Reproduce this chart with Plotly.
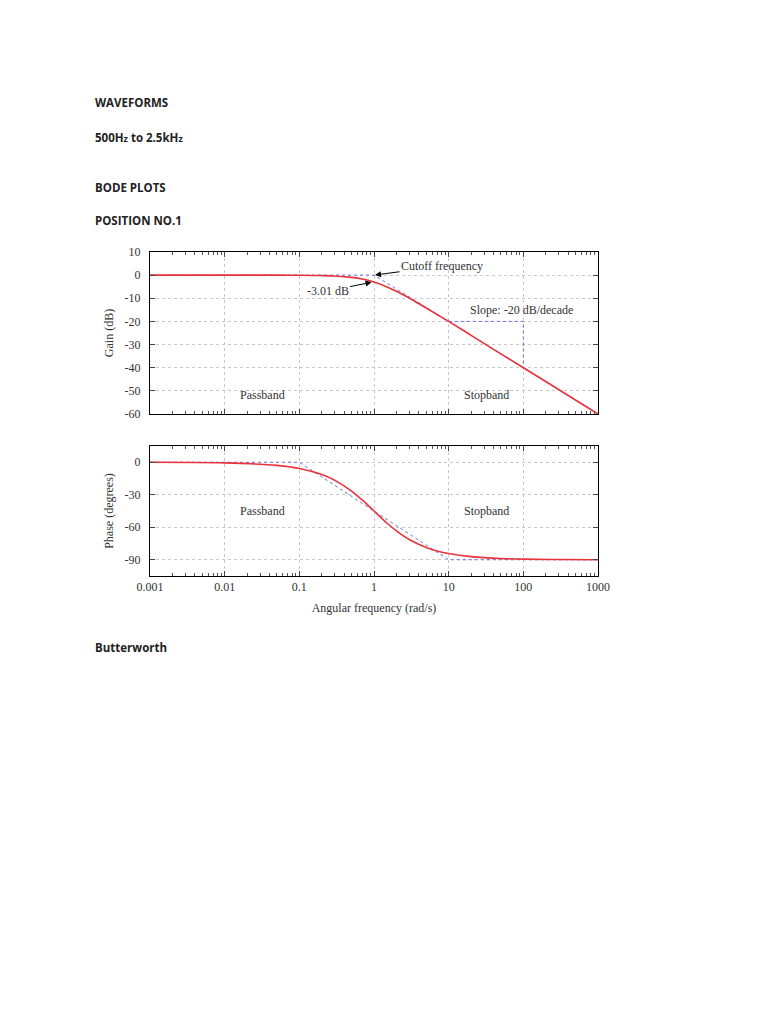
import plotly.graph_objects as go

# page text
page_lines = ["WAVEFORMS", "500H<span style='font-size:9px'>z</span> to 2.5kH<span style='font-size:9px'>z</span>",
              "BODE PLOTS", "POSITION NO.1", "Butterworth"]
page_y = [102, 137, 187, 220, 647]

freq = [0.001, 0.01, 0.05, 0.1, 0.2, 0.3, 0.5, 0.7, 1, 1.5, 2, 3, 5, 7, 10, 20, 50, 100, 300, 1000]
gain = [0, 0, -0.01, -0.04, -0.17, -0.37, -0.97, -1.7, -3.01, -5.1, -7.0, -10.0, -14.2, -17.0,
        -20.0, -26.0, -34.0, -40.0, -49.5, -60.0]
phase = [0, -0.6, -2.9, -5.7, -11.3, -16.7, -26.6, -35.0, -45.0, -56.3, -63.4, -71.6, -78.7,
         -81.9, -84.3, -87.1, -88.9, -89.4, -89.8, -90.0]

# blue dotted asymptotes
gain_asym_f = [0.001, 1, 1000]
gain_asym = [0, 0, -60]
slope_f = [10, 100, 100]
slope_g = [-20, -20, -40]
phase_asym_f = [0.001, 0.1, 10, 1000]
phase_asym = [0, 0, -90, -90]

# tick labels
gain_ticks = [10, 0, -10, -20, -30, -40, -50, -60]
phase_ticks = [0, -30, -60, -90]
freq_ticks = [0.001, 0.01, 0.1, 1, 10, 100, 1000]
freq_labels = ["0.001", "0.01", "0.1", "1", "10", "100", "1000"]
minor_ticks = [d * m for d in freq_ticks[:-1] for m in range(2, 10)]

red = "#e8323c"
blue = "#6f6fe6"
serif = "Liberation Serif"
W, H = 768, 1024
OFF = 8  # page body margin


def px(x):
    return (x - OFF) / W


def py(y):
    return 1 - (y - OFF) / H


fig = go.Figure()
fig.add_trace(go.Scatter(x=gain_asym_f, y=gain_asym, mode="lines", line=dict(color=blue, width=1, dash="dot"),
                         xaxis="x", yaxis="y"))
fig.add_trace(go.Scatter(x=slope_f, y=slope_g, mode="lines", line=dict(color=blue, width=1, dash="dot"),
                         xaxis="x", yaxis="y"))
fig.add_trace(go.Scatter(x=freq, y=gain, mode="lines", line=dict(color=red, width=1.6, shape="spline"),
                         xaxis="x", yaxis="y"))
fig.add_trace(go.Scatter(x=phase_asym_f, y=phase_asym, mode="lines", line=dict(color=blue, width=1, dash="dot"),
                         xaxis="x2", yaxis="y2"))
fig.add_trace(go.Scatter(x=freq, y=phase, mode="lines", line=dict(color=red, width=1.6, shape="spline"),
                         xaxis="x2", yaxis="y2"))

tick_font = dict(family=serif, size=12, color="#333")
common_x = dict(type="log", range=[-3, 3], tickvals=freq_ticks, ticktext=freq_labels, automargin=False,
                showline=True, linecolor="black", linewidth=1,
                mirror="ticks", ticks="inside", ticklen=5, tickcolor="#444",
                showgrid=True, gridcolor="#c8c8c8", griddash="dot", gridwidth=1, zeroline=False,
                minor=dict(tickvals=minor_ticks, ticks="inside", ticklen=3, tickcolor="#555", showgrid=False),
                tickfont=tick_font)
common_y = dict(showline=True, linecolor="black", linewidth=1, mirror="ticks", ticks="inside", ticklen=5,
                tickcolor="#444", showgrid=True, gridcolor="#c8c8c8", griddash="dot", zeroline=False,
                automargin=False, tickfont=tick_font, ticklabelstandoff=6)

fig.update_layout(
    width=W, height=H, margin=dict(l=0, r=0, t=0, b=0, autoexpand=False), showlegend=False,
    paper_bgcolor="white", plot_bgcolor="white",
    xaxis=dict(common_x, domain=[px(150), px(598)], anchor="y", showticklabels=False),
    yaxis=dict(common_y, domain=[py(414), py(252)], range=[-60, 10],
               tickvals=gain_ticks, ticktext=[str(v) for v in gain_ticks], anchor="x",
               title=dict(text="Gain (dB)", font=tick_font, standoff=8)),
    xaxis2=dict(common_x, domain=[px(150), px(598)], anchor="y2",
                title=dict(text="Angular frequency (rad/s)", font=tick_font, standoff=10)),
    yaxis2=dict(common_y, domain=[py(576), py(446)], range=[-105, 15],
                tickvals=phase_ticks, ticktext=[str(v) for v in phase_ticks], anchor="x2",
                title=dict(text="Phase (degrees)", font=tick_font, standoff=8)),
)

ann_font = dict(family=serif, size=12, color="#333")
fig.add_annotation(x=0, y=0, xref="x", yref="y", text="Cutoff frequency", showarrow=True, arrowhead=2,
                   arrowsize=1.2, arrowwidth=1, arrowcolor="black", ax=68, ay=-9, font=ann_font, standoff=1)
fig.add_annotation(x=-0.02, y=-3.01, xref="x", yref="y", text="-3.01 dB", showarrow=True, arrowhead=2,
                   arrowsize=1.2, arrowwidth=1, arrowcolor="black", ax=-45, ay=9, font=ann_font, standoff=1)
fig.add_annotation(x=1.98, y=-15, xref="x", yref="y", text="Slope: -20 dB/decade", showarrow=False, font=ann_font)
fig.add_annotation(x=-1.5, y=-52, xref="x", yref="y", text="Passband", showarrow=False, font=ann_font)
fig.add_annotation(x=1.5, y=-52, xref="x", yref="y", text="Stopband", showarrow=False, font=ann_font)
fig.add_annotation(x=-1.5, y=-45, xref="x2", yref="y2", text="Passband", showarrow=False, font=ann_font)
fig.add_annotation(x=1.5, y=-45, xref="x2", yref="y2", text="Stopband", showarrow=False, font=ann_font)

for txt, ty in zip(page_lines, page_y):
    fig.add_annotation(x=px(93), y=py(ty), xref="paper", yref="paper", text="<b>" + txt + "</b>",
                       showarrow=False, xanchor="left", yanchor="middle",
                       font=dict(family="Open Sans", size=11.5, color="#222"))

fig.write_html("out.html")
